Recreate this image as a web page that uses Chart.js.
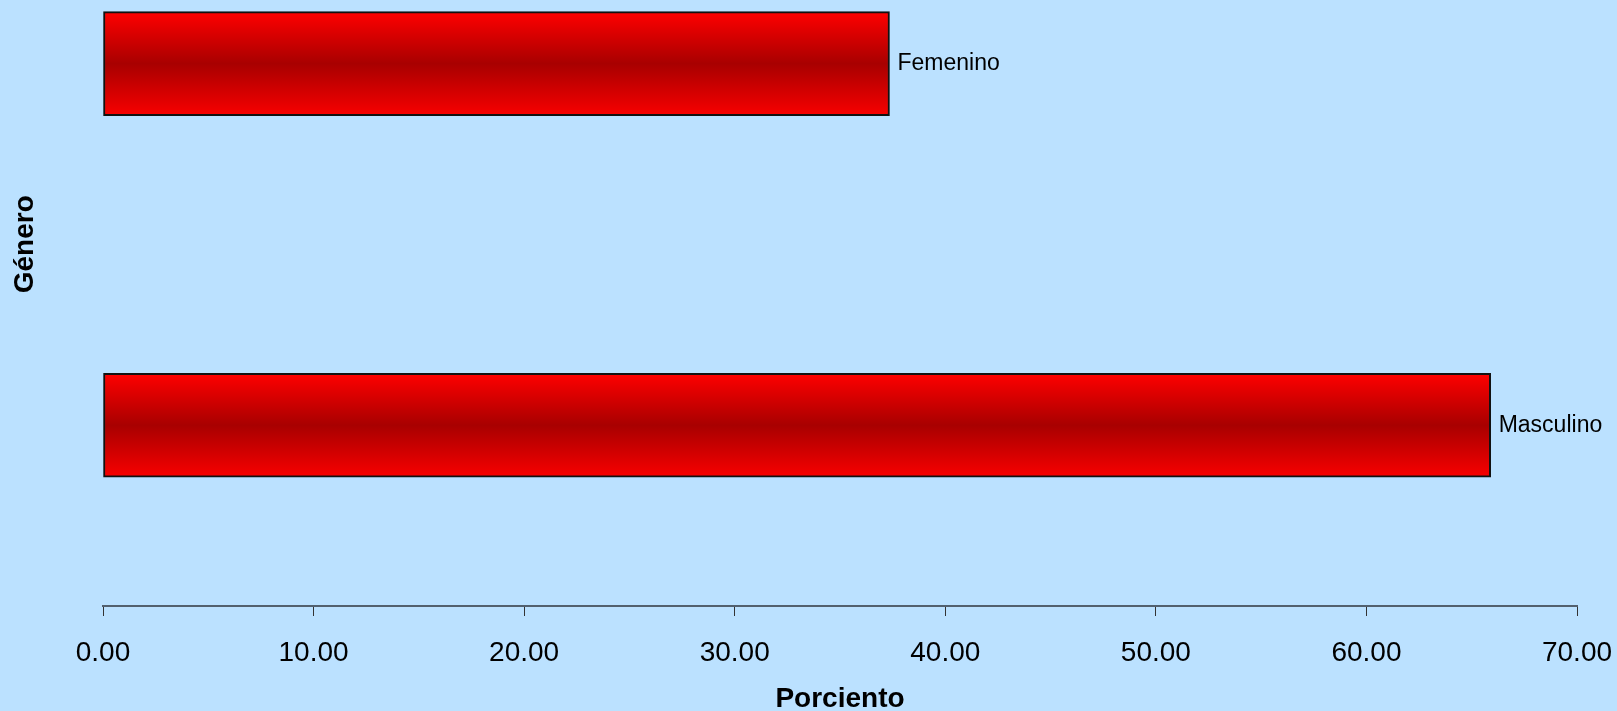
<!DOCTYPE html>
<html>
<head>
<meta charset="utf-8">
<script src="https://cdn.jsdelivr.net/npm/chart.js@4"></script>
<style>
  html, body { margin: 0; padding: 0; background: #bbe1ff; }
  #wrap { width: 1617px; height: 711px; }
</style>
</head>
<body>
<div id="wrap"><canvas id="chart"></canvas></div>
<script>
// data
const categories = ['Femenino', 'Masculino'];
const percentValues = [37.35, 65.9];
const xTickStep = 10;
const xMax = 70;
const yTitle = 'Género';

const FONT = "'Liberation Sans', Arial, sans-serif";
const BAR_THICK = 104;

// background fill
const bgPlugin = {
    id: 'bg',
    beforeDraw(chart) {
        const c = chart.ctx;
        c.save();
        c.fillStyle = '#bbe1ff';
        c.fillRect(0, 0, chart.width, chart.height);
        c.restore();
    }
};

// category name next to the end of each bar + the vertical axis title
const endLabels = {
    id: 'endLabels',
    afterDatasetsDraw(chart) {
        const c = chart.ctx;
        const meta = chart.getDatasetMeta(0);
        c.save();
        c.font = '23px ' + FONT;
        c.fillStyle = '#000';
        c.textBaseline = 'middle';
        c.textAlign = 'left';
        meta.data.forEach((el, i) => {
            c.fillText(categories[i], el.x + 8, el.y);
        });
        // y title sits a bit above the middle, like the original
        const area = chart.chartArea;
        c.translate(25, area.top + (area.bottom - area.top) * 0.403);
        c.rotate(-Math.PI / 2);
        c.textAlign = 'center';
        c.font = 'bold 28px ' + FONT;
        c.fillText(yTitle, 0, 0);
        c.restore();
    }
};

// red gradient for each bar
function barGradient(context) {
    const chart = context.chart;
    const y = chart.scales.y.getPixelForValue(context.dataIndex + 1);
    if (!isFinite(y)) return '#dd0000';
    const g = chart.ctx.createLinearGradient(0, y - BAR_THICK / 2, 0, y + BAR_THICK / 2);
    g.addColorStop(0, '#ff0000');
    g.addColorStop(0.5, '#a80000');
    g.addColorStop(1, '#f80000');
    return g;
}

const points = percentValues.map((v, i) => ({ x: v, y: i + 1 }));

new Chart(document.getElementById('chart'), {
    type: 'bar',
    data: {
        datasets: [{
            label: 'Porciento',
            data: points,
            backgroundColor: barGradient,
            borderColor: '#111',
            borderWidth: 2,
            borderSkipped: false,
            barThickness: BAR_THICK
        }]
    },
    options: {
        indexAxis: 'y',
        responsive: true,
        maintainAspectRatio: false,
        animation: false,
        layout: { padding: { top: 0, right: 0, bottom: 0, left: 0 } },
        plugins: {
            legend: { display: false },
            tooltip: { enabled: false }
        },
        scales: {
            x: {
                type: 'linear',
                min: 0,
                max: xMax,
                ticks: {
                    stepSize: xTickStep,
                    color: '#000',
                    font: { family: FONT, size: 28 },
                    padding: 20,
                    callback: v => v.toFixed(2)
                },
                grid: {
                    drawOnChartArea: false,
                    drawTicks: true,
                    tickLength: 10,
                    color: '#333',
                    lineWidth: 1
                },
                border: { display: true, color: '#52606e', width: 2 },
                title: {
                    display: true,
                    text: 'Porciento',
                    color: '#000',
                    font: { family: FONT, size: 28, weight: 'bold' },
                    padding: { top: 4, bottom: -5 }
                },
                afterFit(scale) {
                    scale.height = 105;
                    scale.paddingRight = 40;
                }
            },
            y: {
                type: 'linear',
                reverse: true,
                offset: false,
                min: 0.824,
                max: 2.5,
                ticks: { display: false },
                grid: { display: false },
                border: { display: false },
                title: { display: false },
                afterFit(scale) { scale.width = 103; }
            }
        }
    },
    plugins: [bgPlugin, endLabels]
});
</script>
</body>
</html>
